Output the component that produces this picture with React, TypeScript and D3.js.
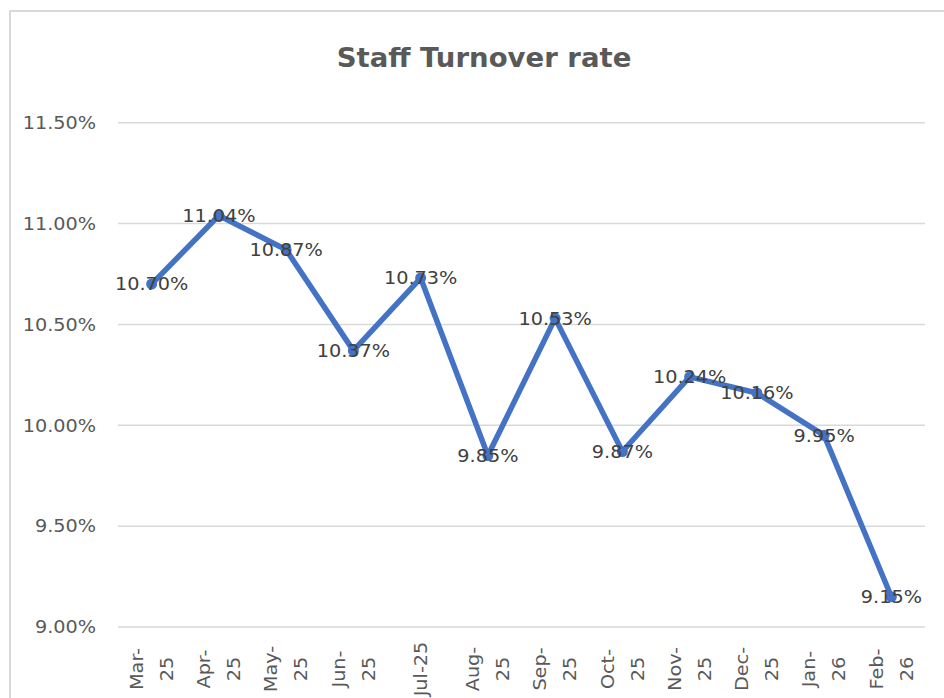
import React from "react";
import * as d3 from "d3";

const categories: string[][] = [
  ["Mar-", "25"], ["Apr-", "25"], ["May-", "25"], ["Jun-", "25"], ["Jul-25"],
  ["Aug-", "25"], ["Sep-", "25"], ["Oct-", "25"], ["Nov-", "25"], ["Dec-", "25"],
  ["Jan-", "26"], ["Feb-", "26"],
];
const turnover: number[] = [10.70, 11.04, 10.87, 10.37, 10.73, 9.85, 10.53, 9.87, 10.24, 10.16, 9.95, 9.15];
const yTicks: number[] = [9.0, 9.5, 10.0, 10.5, 11.0, 11.5];
const title = "Staff Turnover rate";

const W = 944;
const H = 698;
const plot = { left: 118, right: 925, top: 122.7, bottom: 627 };
const FONT = "'DejaVu Sans', sans-serif";
const TEXT = "#595959";
const FS = 17.5;
const SX = 1.1;

function sx(x: number, y: number) {
  return `translate(${x} ${y}) scale(${SX} 1) translate(${-x} ${-y})`;
}

export default function App() {
  const keys = categories.map((c) => c.join(""));
  const x = d3.scaleBand<string>().domain(keys).range([plot.left, plot.right]);
  const y = d3.scaleLinear().domain([9.0, 11.5]).range([plot.bottom, plot.top]);
  const cx = (i: number) => (x(keys[i]) as number) + x.bandwidth() / 2;
  const line = d3
    .line<number>()
    .x((_, i) => cx(i))
    .y((d) => y(d));

  return (
    <svg
      width={W}
      height={H}
      style={{ position: "absolute", left: 0, top: 0, background: "#fff" }}
    >
      <rect x={10} y={11} width={W + 20} height={H + 20} fill="#fff" stroke="#d9d9d9" strokeWidth={2} />
      <text
        x={484}
        y={67}
        textAnchor="middle"
        fontFamily={FONT}
        fontWeight="bold"
        fontSize={27}
        fill={TEXT}
        transform={sx(484, 67).replace(`scale(${SX} 1)`, "scale(1.02 1)")}
      >
        {title}
      </text>
      {yTicks.map((t) => (
        <g key={t}>
          <line x1={plot.left} x2={plot.right} y1={y(t)} y2={y(t)} stroke="#d9d9d9" strokeWidth={1.5} />
          <text
            x={96}
            y={y(t)}
            dy="0.36em"
            textAnchor="end"
            fontFamily={FONT}
            fontSize={FS}
            fill={TEXT}
            transform={sx(96, y(t))}
          >
            {d3.format(".2f")(t) + "%"}
          </text>
        </g>
      ))}
      {categories.map((c, i) => {
        const n = c.length;
        return (
          <g key={i}>
            {c.map((s, j) => {
              const lx = cx(i) + (j - (n - 1) / 2) * 30;
              const ly = 669;
              return (
                <text
                  key={j}
                  transform={`translate(${lx},${ly}) rotate(-90) scale(${SX} 1)`}
                  textAnchor="middle"
                  dy="0.36em"
                  fontFamily={FONT}
                  fontSize={FS}
                  fill={TEXT}
                >
                  {s}
                </text>
              );
            })}
          </g>
        );
      })}
      <path
        d={line(turnover) ?? ""}
        fill="none"
        stroke="#4472C4"
        strokeWidth={5.5}
        strokeLinejoin="round"
        strokeLinecap="round"
      />
      {turnover.map((v, i) => (
        <circle key={i} cx={cx(i)} cy={y(v)} r={5.5} fill="#4472C4" />
      ))}
      {turnover.map((v, i) => (
        <text
          key={"l" + i}
          x={cx(i)}
          y={y(v)}
          dy="0.36em"
          textAnchor="middle"
          fontFamily={FONT}
          fontSize={FS}
          fill="#404040"
          transform={sx(cx(i), y(v))}
        >
          {d3.format(".2f")(v) + "%"}
        </text>
      ))}
    </svg>
  );
}
